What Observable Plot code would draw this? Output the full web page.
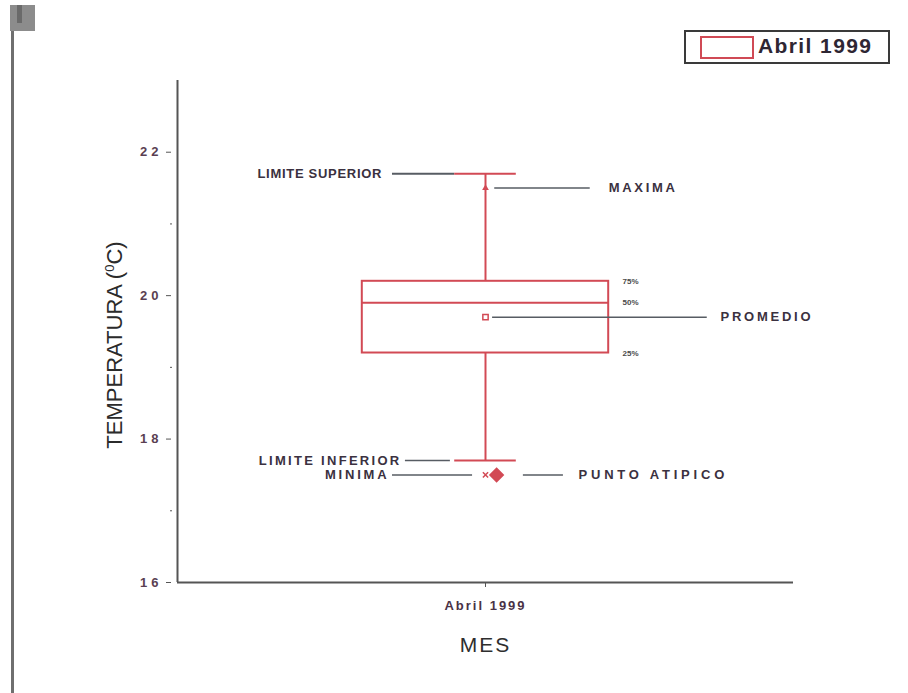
<!DOCTYPE html>
<html>
<head>
<meta charset="utf-8">
<script src="https://cdn.jsdelivr.net/npm/d3@7"></script>
<script src="https://cdn.jsdelivr.net/npm/@observablehq/plot@0.6"></script>
<style>
  html, body { margin: 0; padding: 0; background: #fff; }
  #page { position: relative; width: 908px; height: 693px; overflow: hidden; font-family: "Liberation Sans", Arial, sans-serif; }
  #chart { position: absolute; left: 0; top: 0; }
  .leftbar { position: absolute; left: 11px; top: 26px; width: 3px; height: 667px; background: #6f6f6f; }
  .corner { position: absolute; left: 10px; top: 5px; width: 25px; height: 26px; background: #8c8c8c; }
  .corner2 { position: absolute; left: 17px; top: 5px; width: 5px; height: 18px; background: #6a6a6a; }
  .legend { position: absolute; left: 684px; top: 30px; width: 202px; height: 30px; border: 2px solid #3a3a3a; background: #fff; }
  .legend .sw { position: absolute; left: 14px; top: 4px; width: 50px; height: 19px; border: 2px solid #d04a55; }
  .legend .lt { position: absolute; left: 72px; top: 2px; font-size: 21px; font-weight: bold; color: #2e2633; letter-spacing: 1.4px; }
  .ylabel { position: absolute; left: 115px; top: 345px; transform: translate(-50%, -50%) rotate(-90deg); white-space: nowrap; font-size: 22px; color: #2b2b2b; }
  .ylabel sup { font-size: 13px; }
</style>
</head>
<body>
<div id="page">
  <div id="chart"></div>
  <div class="leftbar"></div>
  <div class="corner"></div>
  <div class="corner2"></div>
  <div class="legend"><div class="sw"></div><div class="lt">Abril 1999</div></div>
  <div class="ylabel">TEMPERATURA (<sup>0</sup>C)</div>
</div>
<script>
// ---- data ----
const months = ["Abril 1999"];
const q1 = [19.2];
const median = [19.9];
const q3 = [20.2];
const mean = [19.7];
const upperLimit = [21.7];
const lowerLimit = [17.7];
const maxima = [21.5];
const minima = [17.5];
const outliers = [17.5];
const yTicks = [16, 18, 20, 22];
const yMinorTicks = [17, 19, 21];
const pctLabels = ["75%", "50%", "25%"];
const annotationLabels = {sup: "LIMITE SUPERIOR", inf: "LIMITE INFERIOR", max: "MAXIMA", min: "MINIMA", mean: "PROMEDIO", out: "PUNTO ATIPICO"};
const xTitle = "MES";

// ---- layout constants (in x-scale units around the month center) ----
const C = 1;
const boxHalf = 0.4;
const capHalf = 0.1;

const rows = months.map((m, i) => ({m, x: C + i, q1: q1[i], med: median[i], q3: q3[i], mean: mean[i],
  up: upperLimit[i], lo: lowerLimit[i], max: maxima[i], min: minima[i], out: outliers[i]}));

const red = "#d24a55";
const gray = "#575c63";
const txt = "#3b3140";
const labelStyle = {fontSize: 13, fontWeight: "bold", fill: txt};

const chart = Plot.plot({
  width: 908, height: 693,
  marginLeft: 177, marginRight: 115, marginTop: 80, marginBottom: 111,
  x: {domain: [0, 2], axis: null},
  y: {domain: [16, 23], axis: null},
  style: {fontFamily: "'Liberation Sans', Arial, sans-serif", background: "transparent", overflow: "visible"},
  marks: [
    Plot.ruleX([0], {y1: 16, y2: 23, stroke: "#555", strokeWidth: 2}),
    Plot.ruleY([16], {x1: 0, x2: 2, stroke: "#555", strokeWidth: 2}),
    Plot.axisY({ticks: yTicks, tickFormat: d3.format("d"), label: null, dx: -6, tickSize: 5, tickPadding: 8, stroke: "#555", fontSize: 13, fontWeight: "bold", color: "#5a3f52"}),
    Plot.axisY({ticks: yMinorTicks, tickSize: 2, dx: -5, label: null, tickFormat: () => "", stroke: "#555"}),
    Plot.axisX({ticks: [C], tickFormat: () => months[0], label: null, tickSize: 5, tickPadding: 13, anchor: "bottom", fontSize: 13, fontWeight: "bold", color: "#4a3246", stroke: "#555"}),
    Plot.text([xTitle], {x: C, y: 16, dy: 63, fontSize: 21, fill: "#2e2e2e"}),
    // box
    Plot.rect(rows, {x1: r => r.x - boxHalf, x2: r => r.x + boxHalf, y1: "q1", y2: "q3", fill: "none", stroke: red, strokeWidth: 2}),
    Plot.ruleY(rows, {y: "med", x1: r => r.x - boxHalf, x2: r => r.x + boxHalf, stroke: red, strokeWidth: 2}),
    // whiskers
    Plot.ruleX(rows, {x: "x", y1: "q3", y2: "up", stroke: red, strokeWidth: 2}),
    Plot.ruleX(rows, {x: "x", y1: "q1", y2: "lo", stroke: red, strokeWidth: 2}),
    // gray leaders
    Plot.ruleY(rows, {y: "up", x1: r => r.x - 0.302, x2: r => r.x - capHalf, stroke: gray, strokeWidth: 2}),
    Plot.ruleY(rows, {y: "lo", x1: r => r.x - 0.26, x2: r => r.x - 0.114, stroke: gray, strokeWidth: 1.5}),
    Plot.ruleY(rows, {y: "max", x1: r => r.x + 0.03, x2: r => r.x + 0.34, stroke: gray, strokeWidth: 1.5}),
    Plot.ruleY(rows, {y: "mean", x1: r => r.x + 0.023, x2: r => r.x + 0.72, stroke: gray, strokeWidth: 1.5}),
    Plot.ruleY(rows, {y: "min", x1: r => r.x - 0.302, x2: r => r.x - 0.042, stroke: gray, strokeWidth: 1.5}),
    Plot.ruleY(rows, {y: "out", x1: r => r.x + 0.123, x2: r => r.x + 0.253, stroke: gray, strokeWidth: 1.5}),
    // caps
    Plot.ruleY(rows, {y: "up", x1: r => r.x - capHalf, x2: r => r.x + capHalf, stroke: red, strokeWidth: 2}),
    Plot.ruleY(rows, {y: "lo", x1: r => r.x - capHalf, x2: r => r.x + capHalf, stroke: red, strokeWidth: 2}),
    // markers
    Plot.dot(rows, {x: "x", y: "max", symbol: "triangle", r: 2.5, fill: red}),
    Plot.dot(rows, {x: "x", y: "mean", symbol: "square", r: 3, stroke: red, strokeWidth: 1.5, fill: "#fff"}),
    Plot.dot(rows, {x: "x", y: "min", symbol: "times", r: 2.5, stroke: red, strokeWidth: 1.5}),
    Plot.dot(rows, {x: r => r.x + 0.036, y: "out", symbol: "diamond2", r: 6, fill: red, stroke: red}),
    // labels
    Plot.text(rows, {x: r => r.x - 0.338, y: "up", text: () => annotationLabels.sup, textAnchor: "end", ...labelStyle}),
    Plot.text(rows, {x: r => r.x - 0.28, y: "lo", text: () => annotationLabels.inf, textAnchor: "end", ...labelStyle}),
    Plot.text(rows, {x: r => r.x + 0.40, y: "max", text: () => annotationLabels.max, textAnchor: "start", ...labelStyle}),
    Plot.text(rows, {x: r => r.x - 0.321, y: "min", text: () => annotationLabels.min, textAnchor: "end", ...labelStyle}),
    Plot.text(rows, {x: r => r.x + 0.763, y: "mean", text: () => annotationLabels.mean, textAnchor: "start", ...labelStyle}),
    Plot.text(rows, {x: r => r.x + 0.302, y: "out", text: () => annotationLabels.out, textAnchor: "start", ...labelStyle}),
    Plot.text(rows, {x: r => r.x + 0.445, y: "q3", text: () => pctLabels[0], textAnchor: "start", fontSize: 8, fontWeight: "bold", fill: "#4a4a4a"}),
    Plot.text(rows, {x: r => r.x + 0.445, y: "med", text: () => pctLabels[1], textAnchor: "start", fontSize: 8, fontWeight: "bold", fill: "#4a4a4a"}),
    Plot.text(rows, {x: r => r.x + 0.445, y: "q1", text: () => pctLabels[2], textAnchor: "start", fontSize: 8, fontWeight: "bold", fill: "#4a4a4a"})
  ]
});
document.getElementById("chart").appendChild(chart);

// letter spacing (style only)
const spacing = {"LIMITE SUPERIOR": 0.7, "LIMITE INFERIOR": 2.3, "MAXIMA": 2.7, "MINIMA": 2.8, "PROMEDIO": 2.75, "PUNTO ATIPICO": 3.8,
  "16": 4, "18": 4, "20": 4, "22": 4, "Abril 1999": 2, "MES": 2};
d3.select(chart).selectAll("text").each(function() {
  const t = this.textContent;
  if (spacing[t] != null) {
    this.setAttribute("letter-spacing", spacing[t] + "px");
    const anchor = this.getAttribute("text-anchor") || (this.parentNode && this.parentNode.getAttribute("text-anchor"));
    if (anchor === "end") this.setAttribute("dx", (spacing[t]).toString());
  }
});
</script>
</body>
</html>
